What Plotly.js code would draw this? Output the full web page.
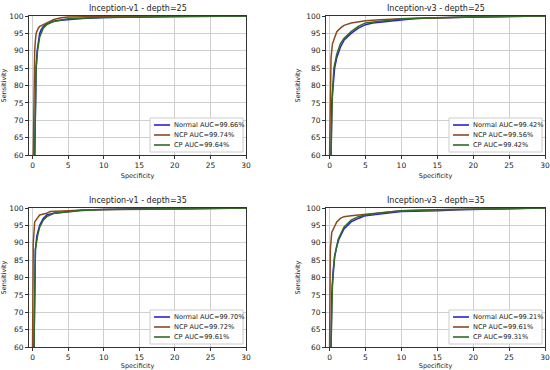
<!DOCTYPE html>
<html><head><meta charset="utf-8">
<script src="https://cdn.plot.ly/plotly-3.0.1.min.js"></script>
<style>html,body{margin:0;padding:0;background:#fff}#chart{width:550px;height:370px}</style>
</head><body><div id="chart"></div>
<script>
const panelTitles = ["Inception-v1 - depth=25","Inception-v3 - depth=25","Inception-v1 - depth=35","Inception-v3 - depth=35"];
const seriesNames = ["Normal","NCP","CP"];
const aucLabels = [
  ["99.66%","99.74%","99.64%"],
  ["99.42%","99.56%","99.42%"],
  ["99.70%","99.72%","99.61%"],
  ["99.21%","99.61%","99.31%"]
];
const xTicks = [0,5,10,15,20,25,30];
const yTicks = [60,65,70,75,80,85,90,95,100];

// panel 1: Inception-v1 depth 25
const p1NormalX = [0.3,0.4,0.5,0.65,0.8,1,1.2,1.5,2,3,4,5,7,10,15,20,30];
const p1NormalY = [60,75,85,90,93,95,96,97,97.8,98.5,98.8,99,99.3,99.6,99.8,99.9,100];
const p1NcpX = [0.1,0.2,0.3,0.4,0.5,0.8,1,1.5,2,3,4,5,8,15,30];
const p1NcpY = [60,82,90,93,95,96.5,97,97.5,98,99,99.5,99.7,99.8,99.9,100];
const p1CpX = [0.3,0.4,0.5,0.7,1,1.5,2,3,5,10,20,30];
const p1CpY = [60,78,85,90,94,96.5,97.5,98.5,99.2,99.6,99.9,100];

// panel 2: Inception-v3 depth 25
const p2NormalX = [0.2,0.3,0.5,0.7,1,1.5,2,3,4,5,6,8,10,12,15,20,25,30];
const p2NormalY = [60,75,80,85,88,91,93,95,96.5,97.5,98,98.5,99,99.3,99.5,99.7,99.9,100];
const p2NcpX = [0,0.1,0.2,0.4,0.7,1,1.5,2,3,4,5,7,10,15,20,30];
const p2NcpY = [60,85,88,92,94,95.5,96.5,97.3,98,98.3,98.6,98.9,99.2,99.4,99.7,100];
const p2CpX = [0.2,0.4,0.6,1,1.5,2,3,4,5,7,10,15,20,30];
const p2CpY = [60,78,85,89,92,93.5,95.5,97,98,98.5,99.2,99.5,99.8,100];

// panel 3: Inception-v1 depth 35
const p3NormalX = [0.2,0.3,0.4,0.6,1,1.5,2,3,4,5,7,10,17,20,30];
const p3NormalY = [60,80,88,92,95,97,98,98.5,98.7,99,99.4,99.6,99.8,100,100];
const p3NcpX = [0,0.1,0.3,0.6,1,2,2.5,5,8,12,22,30];
const p3NcpY = [60,90,96,97,98,98.5,99,99.2,99.5,99.6,99.7,100];
const p3CpX = [0.2,0.4,0.7,1,1.5,2,3,5,7,10,20,30];
const p3CpY = [60,88,92,94.5,96.5,97.5,98.5,99,99.3,99.6,99.8,100];

// panel 4: Inception-v3 depth 35
const p4NormalX = [0.2,0.3,0.5,0.7,1,1.3,2,3,4,5,7,10,15,18,25,30];
const p4NormalY = [60,75,82,86,89,91,94,96,97,97.8,98.3,99,99.2,99.5,99.8,100];
const p4NcpX = [0,0.1,0.3,0.8,1,1.5,2,3,4,5,7,10,15,20,30];
const p4NcpY = [60,88,93,95,96,97,97.5,97.8,98,98.3,98.7,99.2,99.5,99.7,100];
const p4CpX = [0.2,0.4,0.7,1.2,2,3,4,5,7,10,15,24,30];
const p4CpY = [60,78,86,91,94.5,96.5,97.5,98,98.6,99.2,99.5,99.9,100];

const panelData = [
  [[p1NormalX,p1NormalY],[p1NcpX,p1NcpY],[p1CpX,p1CpY]],
  [[p2NormalX,p2NormalY],[p2NcpX,p2NcpY],[p2CpX,p2CpY]],
  [[p3NormalX,p3NormalY],[p3NcpX,p3NcpY],[p3CpX,p3CpY]],
  [[p4NormalX,p4NormalY],[p4NcpX,p4NcpY],[p4CpX,p4CpY]]
];
const colors = ["#2b1fd6","#8c4a1c","#2f6b24"];

const W=550,H=370;
const xPix = [[29,246],[326,545]];
const yPix = [[16,155],[208,347]];
const px = v=>v/W, py = v=>1-v/H;

const traces=[];
const layout = {
  width:W,height:H,margin:{l:0,r:0,t:0,b:0},
  paper_bgcolor:"#fff",plot_bgcolor:"#fff",
  font:{family:"DejaVu Sans",size:8,color:"#222"},
  annotations:[],shapes:[],showlegend:false
};
for(let p=0;p<4;p++){
  const col=p%2,row=Math.floor(p/2);
  const ax = p===0?"":String(p+1);
  for(let s=0;s<3;s++){
    traces.push({
      x:panelData[p][s][0],y:panelData[p][s][1],
      type:"scatter",mode:"lines",line:{color:colors[s],width:1.5},
      name:seriesNames[s]+" AUC="+aucLabels[p][s],
      xaxis:"x"+ax,yaxis:"y"+ax
    });
  }
  const axCommon = {showline:true,mirror:true,linecolor:"#333",linewidth:1,
    ticks:"outside",ticklen:3,tickcolor:"#333",showgrid:true,gridcolor:"#cfcfcf",gridwidth:1,
    zeroline:false,tickfont:{size:7.5,color:"#222"},ticklabeloverflow:"allow"};
  layout["xaxis"+ax] = Object.assign({},axCommon,{domain:[px(xPix[col][0]),px(xPix[col][1])],range:[-0.5,30],
    tickvals:xTicks,anchor:"y"+ax,
    title:{text:"Specificity",font:{size:6.5},standoff:4}});
  layout["yaxis"+ax] = Object.assign({},axCommon,{domain:[py(yPix[row][1]),py(yPix[row][0])],range:[60,100],
    tickvals:yTicks,anchor:"x"+ax,
    title:{text:"Sensitivity",font:{size:6.5},standoff:4}});
  layout.annotations.push({text:panelTitles[p],xref:"paper",yref:"paper",
    x:px((xPix[col][0]+xPix[col][1])/2),y:py(yPix[row][0]),yanchor:"bottom",xanchor:"center",
    yshift:1,showarrow:false,font:{size:8,color:"#222"}});
  // legend box
  const bR = xPix[col][1]-3, bB = yPix[row][1]-3, bL = bR-93, bT = bB-34;
  layout.shapes.push({type:"rect",xref:"paper",yref:"paper",x0:px(bL),x1:px(bR),y0:py(bB),y1:py(bT),
    fillcolor:"rgba(255,255,255,0.92)",line:{color:"#cccccc",width:1},layer:"above"});
  for(let s=0;s<3;s++){
    const yc = bT+7+s*10;
    layout.shapes.push({type:"line",xref:"paper",yref:"paper",x0:px(bL+4),x1:px(bL+20),y0:py(yc),y1:py(yc),
      line:{color:colors[s],width:1.6},layer:"above"});
    layout.annotations.push({text:seriesNames[s]+" AUC="+aucLabels[p][s],xref:"paper",yref:"paper",
      x:px(bL+22),y:py(yc),xanchor:"left",yanchor:"middle",showarrow:false,
      font:{size:6.6,color:"#222"}});
  }
}
Plotly.newPlot("chart",traces,layout,{displayModeBar:false,staticPlot:true});
</script></body></html>
